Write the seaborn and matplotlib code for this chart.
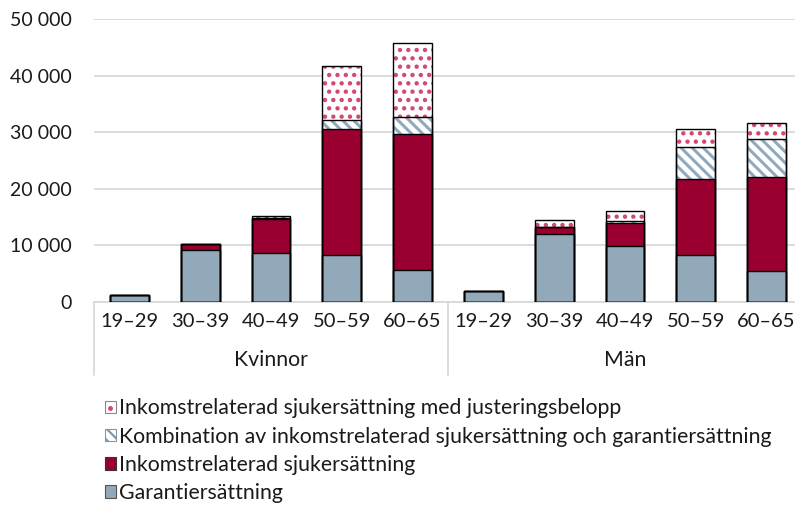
import matplotlib
matplotlib.use("Agg")
import matplotlib.pyplot as plt
import seaborn as sns
from matplotlib.patches import Patch
from matplotlib.lines import Line2D
from matplotlib.legend_handler import HandlerTuple
import matplotlib.transforms as mtransforms

# ---- data ----
groups = ["Kvinnor", "Män"]
ages = ["19–29", "30–39", "40–49", "50–59", "60–65"]
categories = [f"{g} {a}" for g in groups for a in ages]

garanti = [1200, 9200, 8600, 8300, 5650,
           2000, 12100, 9850, 8250, 5480]
inkomst = [0, 1000, 6000, 22260, 24030,
           0, 1100, 4110, 13480, 16550]
kombination = [0, 0, 300, 1540, 2950,
               0, 0, 300, 5710, 6720]
justering = [0, 0, 250, 9600, 13170,
             0, 1250, 1830, 3120, 2820]

series_names = ["Garantiersättning",
                "Inkomstrelaterad sjukersättning",
                "Kombination av inkomstrelaterad sjukersättning och garantiersättning",
                "Inkomstrelaterad sjukersättning med justeringsbelopp"]
yticks = [0, 10000, 20000, 30000, 40000, 50000]

# ---- style ----
BLUE = "#91a9b9"
HBLUE = "#8faabd"
RED = "#990030"
PINK = "#d2466f"
GRID = "#d9d9d9"
TXT = "#1a1a1a"

sns.set_style("white")
plt.rcParams["font.family"] = ["Lato", "DejaVu Sans"]
plt.rcParams["hatch.linewidth"] = 1.6
FS_X = 14.5
FS_Y = 14
FS_L = 15.3

fig = plt.figure(figsize=(7.95, 5.29), dpi=100)
ax = fig.add_axes([94 / 795, (529 - 302) / 529, 708 / 795, (302 - 19) / 529])

layers = [garanti, inkomst, kombination, justering]
cums = []
run = [0] * len(categories)
for lay in layers:
    run = [r + v for r, v in zip(run, lay)]
    cums.append(run)

styles = [
    dict(fc=BLUE, hatch=None, hc=BLUE, hlw=1.0),
    dict(fc=RED, hatch=None, hc=RED, hlw=1.0),
    dict(fc="white", hatch="\\\\\\", hc=HBLUE, hlw=2.2),
    dict(fc="white", hatch="..", hc=PINK, hlw=1.9),
]

W = 0.55
# draw fills, top layer first
for cum, st in reversed(list(zip(cums, styles))):
    n_before = len(ax.patches)
    sns.barplot(x=categories, y=cum, ax=ax, color=st["fc"], width=W,
                errorbar=None, order=categories)
    for p in ax.patches[n_before:]:
        p.set_facecolor(st["fc"])
        p.set_edgecolor(st["hc"])
        p.set_linewidth(0)
        if st["hatch"]:
            p.set_hatch(st["hatch"])
            if hasattr(p, "set_hatch_linewidth"):
                p.set_hatch_linewidth(st["hlw"])
        p.set_zorder(2)

# outlines
for cum in cums:
    n_before = len(ax.patches)
    sns.barplot(x=categories, y=cum, ax=ax, color="k", width=W,
                errorbar=None, order=categories)
    for p in ax.patches[n_before:]:
        p.set_facecolor("none")
        p.set_edgecolor("black")
        p.set_linewidth(1.0)
        p.set_zorder(3)
        if p.get_height() == 0:
            p.set_visible(False)

ax.set_ylim(0, 50000)
ax.set_xlim(-0.5, len(categories) - 0.5)
ax.set_yticks(yticks)
ax.set_yticklabels([f"{v:,.0f}".replace(",", " ") for v in yticks],
                   fontsize=FS_Y, color=TXT)
ax.set_xticks(range(len(categories)))
ax.set_xticklabels(ages * 2, fontsize=FS_X, color=TXT)
ax.tick_params(axis="both", length=0)
ax.tick_params(axis="y", pad=16)
ax.tick_params(axis="x", pad=8)
ax.set_xlabel("")
ax.set_ylabel("")
ax.yaxis.grid(True, color=GRID, lw=1.3)
ax.set_axisbelow(True)
for s in ["left", "top", "right"]:
    ax.spines[s].set_visible(False)
ax.spines["bottom"].set_color(GRID)
ax.spines["bottom"].set_linewidth(1.3)

# group labels and separators
trans = mtransforms.blended_transform_factory(ax.transData, ax.transAxes)
axh = 302 - 19
for i, g in enumerate(groups):
    ax.text(i * 5 + 2, -(360 - 302) / axh, g, transform=trans, ha="center",
            va="center", fontsize=FS_L, color=TXT)
for xs in [-0.5, 4.5, 9.5]:
    ax.add_line(Line2D([xs, xs], [0, -(375 - 302) / axh], transform=trans,
                       color=GRID, lw=1.3, clip_on=False))

# legend
dot_handle = (Patch(facecolor="white", edgecolor="#888888", lw=0.8),
              Line2D([], [], marker="o", ms=2.5, color=PINK, ls=""))
handles = [dot_handle,
           Patch(facecolor="white", edgecolor="#7f97a8", hatch="\\\\\\", lw=0.8),
           Patch(facecolor=RED, edgecolor="#333333", lw=0.8),
           Patch(facecolor=BLUE, edgecolor="#555555", lw=0.8)]
labels = list(reversed(series_names))
fig.legend(handles, labels, loc="upper left",
           bbox_to_anchor=(96 / 795, 1 - 390 / 529), frameon=False,
           fontsize=FS_L, handlelength=0.55, handleheight=0.55,
           handletextpad=0.15, labelspacing=0.38, borderaxespad=0,
           labelcolor=TXT, handler_map={tuple: HandlerTuple(ndivide=1, pad=0)})

fig.savefig("out.png", dpi=100)
